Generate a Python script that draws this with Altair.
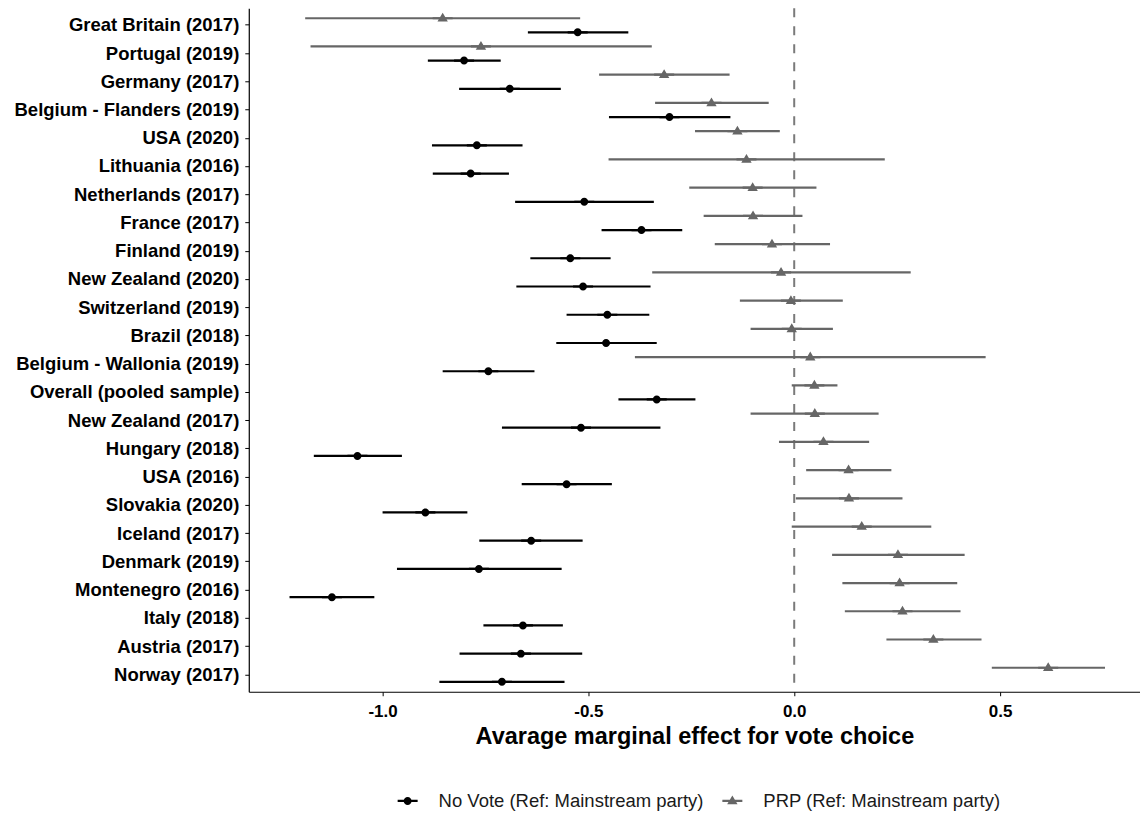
import altair as alt
import pandas as pd

countries = ["Great Britain (2017)", "Portugal (2019)", "Germany (2017)", "Belgium - Flanders (2019)",
             "USA (2020)", "Lithuania (2016)", "Netherlands (2017)", "France (2017)", "Finland (2019)",
             "New Zealand (2020)", "Switzerland (2019)", "Brazil (2018)", "Belgium - Wallonia (2019)",
             "Overall (pooled sample)", "New Zealand (2017)", "Hungary (2018)", "USA (2016)",
             "Slovakia (2020)", "Iceland (2017)", "Denmark (2019)", "Montenegro (2016)", "Italy (2018)",
             "Austria (2017)", "Norway (2017)"]

nv_est = [-0.526, -0.802, -0.691, -0.303, -0.771, -0.786, -0.510, -0.371, -0.544, -0.513, -0.454, -0.457,
          -0.743, -0.334, -0.518, -1.061, -0.553, -0.896, -0.639, -0.766, -1.123, -0.659, -0.664, -0.710]
nv_lo = [-0.647, -0.890, -0.814, -0.450, -0.880, -0.878, -0.678, -0.468, -0.641, -0.675, -0.553, -0.578,
         -0.854, -0.427, -0.710, -1.167, -0.662, -1.000, -0.765, -0.965, -1.226, -0.755, -0.813, -0.862]
nv_hi = [-0.403, -0.713, -0.567, -0.155, -0.660, -0.693, -0.341, -0.272, -0.446, -0.349, -0.352, -0.334,
         -0.631, -0.240, -0.325, -0.953, -0.443, -0.794, -0.514, -0.565, -1.020, -0.562, -0.515, -0.558]

prp_est = [-0.854, -0.761, -0.316, -0.201, -0.138, -0.116, -0.101, -0.100, -0.054, -0.032, -0.008, -0.006,
           0.039, 0.049, 0.050, 0.071, 0.132, 0.133, 0.164, 0.252, 0.256, 0.263, 0.338, 0.617]
prp_lo = [-1.188, -1.175, -0.474, -0.338, -0.241, -0.451, -0.255, -0.220, -0.193, -0.345, -0.132, -0.106,
          -0.387, -0.006, -0.106, -0.037, 0.029, 0.004, -0.006, 0.092, 0.117, 0.123, 0.224, 0.480]
prp_hi = [-0.520, -0.346, -0.157, -0.062, -0.035, 0.220, 0.054, 0.020, 0.087, 0.283, 0.118, 0.094,
          0.465, 0.105, 0.205, 0.182, 0.236, 0.263, 0.333, 0.414, 0.396, 0.404, 0.455, 0.755]

series = ["No Vote (Ref: Mainstream party)", "PRP (Ref: Mainstream party)"]
series_colors = ["#000000", "#666666"]

rows = []
for i, c in enumerate(countries):
    rows.append({"country": c, "series": series[0], "est": nv_est[i], "lo": nv_lo[i], "hi": nv_hi[i]})
    rows.append({"country": c, "series": series[1], "est": prp_est[i], "lo": prp_lo[i], "hi": prp_hi[i]})
df = pd.DataFrame(rows)

FONT = "Liberation Sans"

x_scale = alt.Scale(domain=[-1.325, 0.84], nice=False, zero=False)
color_scale = alt.Scale(domain=series, range=series_colors)
y_enc = alt.Y("country:N", sort=countries,
              scale=alt.Scale(paddingInner=0, paddingOuter=0.1),
              axis=alt.Axis(title=None, labelFontSize=18.5, labelFontWeight="bold", labelColor="#000000",
                            labelFont=FONT, labelLimit=400, tickSize=4, tickColor="#000000", tickWidth=1,
                            domainColor="#000000", domainWidth=1.2, labelPadding=6, grid=False))
yoff_enc = alt.YOffset("series:N", sort=[series[1], series[0]],
                       scale=alt.Scale(type="point", padding=0.5))

base = alt.Chart(df)

zero_line = alt.Chart(pd.DataFrame({"z": [0.0]})).mark_rule(
    color="#7a7a7a", strokeWidth=2, strokeDash=[9, 9]
).encode(x=alt.X("z:Q", scale=x_scale))

x_axis = alt.Axis(title="Avarage marginal effect for vote choice", values=[-1.0, -0.5, 0.0, 0.5],
                  labelExpr="replace(format(datum.value, '.1f'), '\u2212', '-')",
                  labelFontSize=17, labelFontWeight="bold", labelColor="#000000", labelFont=FONT,
                  titleFontSize=23.5, titleFontWeight="bold", titleColor="#000000", titleFont=FONT,
                  titlePadding=5, labelPadding=8, tickSize=4, tickColor="#000000",
                  domainColor="#000000", domainWidth=1.2, grid=False)

leg = alt.Legend(title=None, orient="none", legendX=149, legendY=783, direction="horizontal",
                 labelFontSize=18.5, labelFont=FONT, labelColor="#1a1a1a", labelLimit=400,
                 columnPadding=18, labelOffset=21, symbolSize=400, symbolStrokeWidth=0,
                 symbolOpacity=1)

bars = base.mark_rule(strokeWidth=2.2).encode(
    x=alt.X("lo:Q", scale=x_scale, axis=x_axis),
    x2="hi:Q",
    y=y_enc,
    yOffset=yoff_enc,
    color=alt.Color("series:N", scale=color_scale, legend=leg),
)

circle_path = "M-1,-0.11H1V0.11H-1Z M0.4,0A0.4,0.4,0,1,1,-0.4,0A0.4,0.4,0,1,1,0.4,0Z"
tri_path = "M-1,-0.11H1V0.11H-1Z M0,-0.55L0.52,0.33L-0.52,0.33Z"

points = base.mark_point(filled=True, size=400, opacity=1, strokeWidth=0).encode(
    x=alt.X("est:Q", scale=x_scale),
    y=y_enc,
    yOffset=yoff_enc,
    color=alt.Color("series:N", scale=color_scale, legend=leg),
    shape=alt.Shape("series:N", scale=alt.Scale(domain=series, range=[circle_path, tri_path]), legend=leg),
)

chart = alt.layer(zero_line, bars, points).properties(
    width=892, height=684,
    padding={"left": 13, "top": 7, "right": 0, "bottom": 0},
).configure(font=FONT, background="white").configure_view(stroke=None)

chart.save("out.html", embed_options={"renderer": "svg", "actions": False})
